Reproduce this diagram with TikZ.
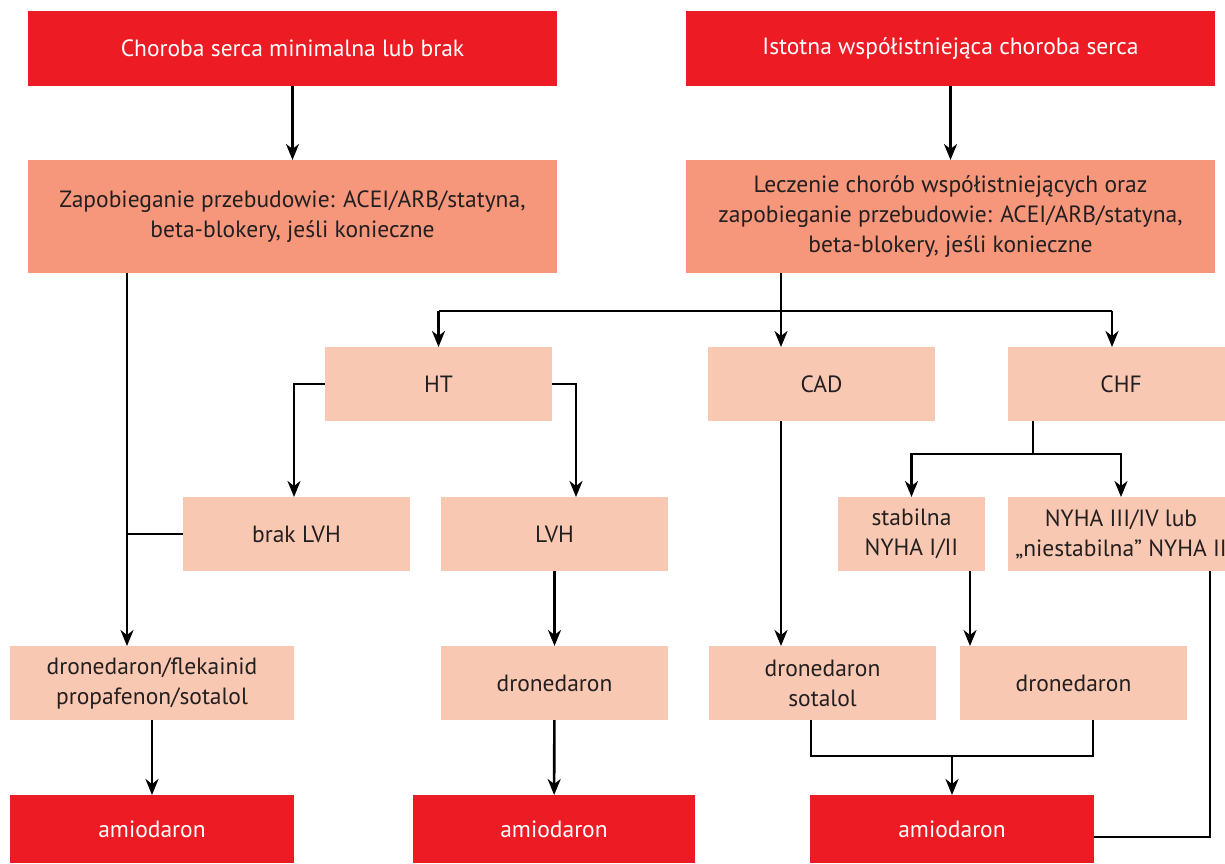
\documentclass[tikz,border=0pt]{standalone}
\usepackage{fontspec}
\setmainfont{PT Sans}
\usetikzlibrary{arrows.meta,calc}
\definecolor{cred}{HTML}{ED1C24}
\definecolor{csalmon}{HTML}{F6967A}
\definecolor{clight}{HTML}{F9C8B2}
\definecolor{ctext}{HTML}{231F20}
\newcommand\mybox[7]{\node[#6, minimum width={(#4-#2)*1pt}, minimum height={(#5-#3)*1pt}] (#1) at ({(#2+#4)/2},{(#3+#5)/2}) {#7};}
\tikzset{
  base/.style={inner sep=0pt, outer sep=0pt, align=center, font=\fontsize{23.5}{30}\selectfont},
  redbox/.style={base, fill=cred, text=white},
  midbox/.style={base, fill=csalmon, text=ctext},
  lightbox/.style={base, fill=clight, text=ctext},
  conn/.style={line width=2.6pt, draw=black},
  arr/.style={conn, -{Stealth[length=16pt,width=13pt,inset=5pt]}},
}
\begin{document}
\begin{tikzpicture}[x=1pt,y=-1pt]
\useasboundingbox (0,0) rectangle (1225,863);
\mybox{A}{28}{11}{557}{86}{redbox}{Choroba serca minimalna lub brak}
\mybox{B}{686}{11}{1215}{86}{redbox}{Istotna współistniejąca choroba serca}
\mybox{C}{28}{160}{557}{273}{midbox}{Zapobieganie przebudowie: ACEI/ARB/statyna,\\beta-blokery, jeśli konieczne}
\mybox{D}{686}{160}{1215}{273}{midbox}{Leczenie chorób współistniejących oraz\\zapobieganie przebudowie: ACEI/ARB/statyna,\\beta-blokery, jeśli konieczne}
\mybox{HT}{325}{347}{552}{421}{lightbox}{HT}
\mybox{CAD}{708}{347}{935}{421}{lightbox}{CAD}
\mybox{CHF}{1008}{347}{1234}{421}{lightbox}{CHF}
\mybox{brak}{183}{497}{410}{571}{lightbox}{brak LVH}
\mybox{LVH}{441}{497}{668}{571}{lightbox}{LVH}
\mybox{stab}{838}{497}{985}{571}{lightbox}{stabilna\\NYHA I/II}
\mybox{nyha}{1008}{497}{1234}{571}{lightbox}{NYHA III/IV lub\\„niestabilna” NYHA II}
\mybox{dfp}{10}{646}{294}{720}{lightbox}{dronedaron/flekainid\\propafenon/sotalol}
\mybox{dronA}{441}{646}{668}{720}{lightbox}{dronedaron}
\mybox{ds}{709}{646}{936}{720}{lightbox}{dronedaron\\sotalol}
\mybox{dronB}{960}{646}{1187}{720}{lightbox}{dronedaron}
\mybox{amA}{10}{795}{294}{863}{redbox}{amiodaron}
\mybox{amB}{413}{795}{695}{863}{redbox}{amiodaron}
\mybox{amC}{810}{795}{1094}{863}{redbox}{amiodaron}
% helper coordinates
\coordinate (cx) at (127,0);
\coordinate (dx) at (781,311);
\coordinate (htl) at (294,0);
\coordinate (htr) at (576,0);
\coordinate (chfx) at (1112,0);
\coordinate (chfb) at (1033,454);
\coordinate (stx) at (970,0);
\coordinate (dsx) at (811,756);
\coordinate (drx) at (1093,756);
\coordinate (nyx) at (1210,837);
% connectors
\draw[arr] (A) -- (C);
\draw[arr] (B) -- (D);
\draw[arr] (C.south -| cx) -- (dfp.north -| cx);
\draw[conn] (brak.west) -- (brak.west -| cx);
\draw[conn] (D.south -| dx) -- (dx);
\draw[conn] (dx -| HT) -- (dx -| chfx);
\draw[arr] (dx -| HT) -- (HT.north);
\draw[arr] (dx) -- (CAD.north -| dx);
\draw[arr] (dx -| chfx) -- (CHF.north -| chfx);
\draw[arr] (HT.west) -| (brak.north -| htl);
\draw[arr] (HT.east) -| (LVH.north -| htr);
\draw[arr] (CAD.south -| dx) -- (ds.north -| dx);
\draw[conn] (CHF.south -| chfb) -- (chfb);
\draw[arr] (chfb) -| (stab.north);
\draw[arr] (chfb) -| (nyha.north);
\draw[arr] (stab.south -| stx) -- (dronB.north -| stx);
\draw[arr] (LVH) -- (dronA);
\draw[arr] (dronA) -- (amB);
\draw[arr] (dfp) -- (amA);
\draw[conn] (ds.south -| dsx) -- (dsx) -- (drx) -- (dronB.south -| drx);
\draw[arr] (dsx -| amC) -- (amC.north);
\draw[conn] (nyha.south -| nyx) -- (nyx) -- (amC.east |- nyx);
\end{tikzpicture}
\end{document}
